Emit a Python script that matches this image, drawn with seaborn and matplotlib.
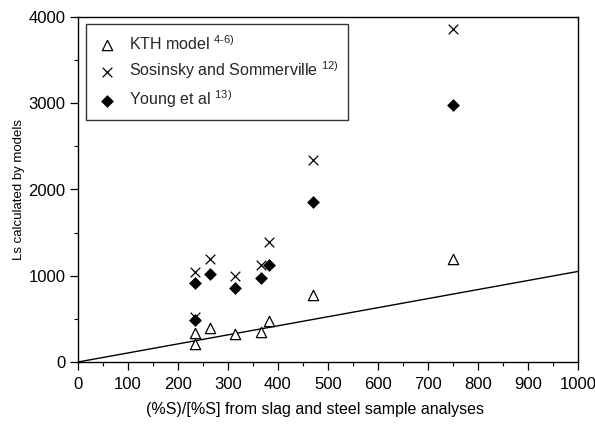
import matplotlib
matplotlib.use("Agg")
import matplotlib.pyplot as plt
import seaborn as sns
import pandas as pd
from matplotlib.ticker import MultipleLocator

# ---- data ----
ratio_x = [233, 233, 263, 313, 365, 382, 470, 750]
kth_y = [210, 340, 400, 325, 350, 475, 775, 1190]
sosinsky_y = [1040, 520, 1190, 1000, 1125, 1390, 2345, 3860]
young_y = [912, 487, 1020, 861, 970, 1125, 1850, 2975]
line_x = [0, 1000]
line_y = [0, 1050]
labels = [r"KTH model $^{4\text{-}6)}$",
          r"Sosinsky and Sommerville $^{12)}$",
          r"Young et al $^{13)}$"]

sns.set_theme(style="white")
plt.rcParams["font.family"] = ["Liberation Sans", "DejaVu Sans"]
plt.rcParams["mathtext.fontset"] = "custom"
plt.rcParams["mathtext.rm"] = "Liberation Sans"
plt.rcParams["mathtext.it"] = "Liberation Sans:italic"

fig = plt.figure(figsize=(5.95, 4.25), dpi=100)
ax = fig.add_axes([78 / 595, 1 - 362 / 425, 500 / 595, 345 / 425])

df = pd.DataFrame({"x": ratio_x, "kth": kth_y, "sos": sosinsky_y, "young": young_y})

sns.lineplot(x=line_x, y=line_y, ax=ax, color="black", linewidth=1.0, legend=False)
sns.scatterplot(data=df, x="x", y="kth", ax=ax, marker="^", s=55,
                facecolor="white", edgecolor="black", linewidth=0.9, label=labels[0], zorder=3)
sns.scatterplot(data=df, x="x", y="sos", ax=ax, marker="x", s=48,
                color="black", linewidth=0.9, label=labels[1], zorder=3)
sns.scatterplot(data=df, x="x", y="young", ax=ax, marker="D", s=36,
                color="black", edgecolor="black", linewidth=0.5, label=labels[2], zorder=4)

ax.set_xlim(0, 1000)
ax.set_ylim(0, 4000)
ax.xaxis.set_major_locator(MultipleLocator(100))
ax.xaxis.set_minor_locator(MultipleLocator(50))
ax.yaxis.set_major_locator(MultipleLocator(1000))
ax.yaxis.set_minor_locator(MultipleLocator(500))
ax.tick_params(which="major", direction="out", length=6, width=0.9, color="black",
               labelsize=12, labelcolor="black", bottom=True, left=True)
ax.tick_params(axis="x", which="major", pad=5)
ax.tick_params(axis="y", which="major", pad=3)
ax.tick_params(which="minor", direction="out", length=3, width=0.8, color="black",
               bottom=True, left=True)
for sp in ax.spines.values():
    sp.set_color("black")
    sp.set_linewidth(1.0)

ax.set_xlabel("(%S)/[%S] from slag and steel sample analyses", fontsize=11.5, color="black")
ax.set_ylabel("Ls calculated by models", fontsize=9.5, color="black")
ax.xaxis.set_label_coords(0.474, -0.116)
ax.yaxis.set_label_coords(-0.105, 0.5)

leg = ax.legend(loc="upper left", bbox_to_anchor=(0.016, 0.979), frameon=True, fancybox=False,
                edgecolor="black", fontsize=11.5, borderpad=0.6, labelspacing=0.45,
                handletextpad=0.7, handlelength=1.4, borderaxespad=0)
leg.get_frame().set_linewidth(1.0)

fig.savefig("out.png", dpi=100)
